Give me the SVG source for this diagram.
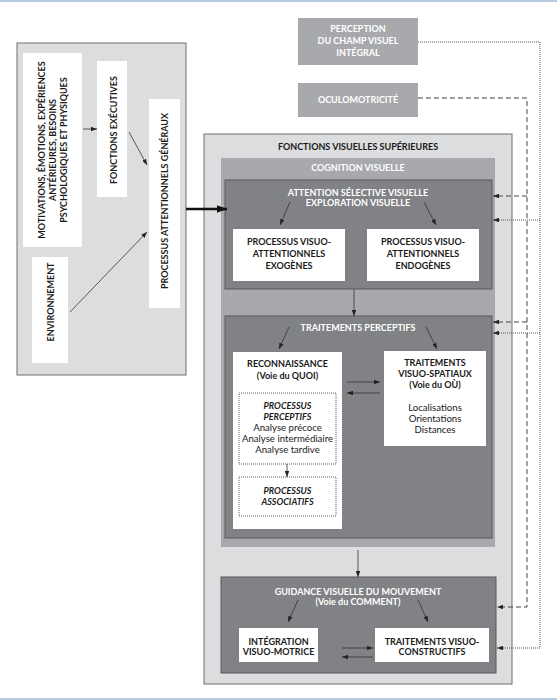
<svg xmlns="http://www.w3.org/2000/svg" width="557" height="700" viewBox="0 0 557 700">
<defs>
<style>
.t{font-family:Lato,"Liberation Sans",sans-serif;font-size:9px;font-weight:bold;text-anchor:middle;fill:#1a1a1a}
.w{fill:#ffffff}
.r{font-family:Lato,"Liberation Sans",sans-serif;font-size:9.6px;text-anchor:middle;fill:#1a1a1a}
.i{font-style:italic}
.light{fill:#dcddde;stroke:#6d6e70;stroke-width:1}
.med{fill:#a7a9ac;stroke:none}
.dark{fill:#808285;stroke:#58595b;stroke-width:1}
.white{fill:#ffffff;stroke:none}
.dot{fill:none;stroke:#333;stroke-width:0.8;stroke-dasharray:1 1}
.ln{fill:none;stroke:#333;stroke-width:0.8}
.dash{fill:none;stroke:#444;stroke-width:1;stroke-dasharray:5 3}
.dotl{fill:none;stroke:#555;stroke-width:1;stroke-dasharray:1 1}
</style>
<marker id="ah" viewBox="0 0 8 6" refX="8" refY="3" markerWidth="6" markerHeight="4.5" orient="auto" markerUnits="userSpaceOnUse">
<path d="M0,0 L8,3 L0,6 z" fill="#222"/>
</marker>
<marker id="ahb" viewBox="0 0 8 6" refX="8" refY="3" markerWidth="10" markerHeight="7.5" orient="auto" markerUnits="userSpaceOnUse">
<path d="M0,0 L8,3 L0,6 z" fill="#111"/>
</marker>
</defs>
<rect width="557" height="700" fill="#ffffff"/>
<line x1="0" y1="1" x2="557" y2="1" stroke="#9db7da" stroke-width="1.5"/>
<line x1="0" y1="699" x2="557" y2="699" stroke="#9db7da" stroke-width="1.5"/>

<g id="left-box">
<rect class="light" x="17" y="43" width="169" height="332" stroke="#555"/>
</g>
<g id="motivations">
<rect class="white" x="23" y="53" width="59" height="194"/>
<g transform="translate(52.5,150) rotate(-90)">
<text class="t" x="0" y="-8">MOTIVATIONS, ÉMOTIONS, EXPÉRIENCES</text>
<text class="t" x="0" y="3">ANTÉRIEURES, BESOINS</text>
<text class="t" x="0" y="14">PSYCHOLOGIQUES ET PHYSIQUES</text>
</g>
</g>
<g id="environnement">
<rect class="white" x="32" y="257" width="36" height="106"/>
<text class="t" transform="translate(53.5,302) rotate(-90)" x="0" y="0">ENVIRONNEMENT</text>
</g>
<g id="fonctions-executives">
<rect class="white" x="97" y="61" width="30" height="136"/>
<text class="t" transform="translate(117,130) rotate(-90)" x="0" y="0">FONCTIONS EXÉCUTIVES</text>
</g>
<g id="processus-attentionnels">
<rect class="white" x="149" y="99" width="31" height="209"/>
<text class="t" transform="translate(168,201) rotate(-90)" x="0" y="0">PROCESSUS ATTENTIONNELS GÉNÉRAUX</text>
</g>

<g id="perception">
<rect class="med" x="298" y="18" width="120" height="47"/>
<text class="t w" x="358" y="32">PERCEPTION</text>
<text class="t w" x="358" y="44">DU CHAMP VISUEL</text>
<text class="t w" x="358" y="56">INTÉGRAL</text>
</g>
<g id="oculomotricite">
<rect class="med" x="298" y="83" width="120" height="34"/>
<text class="t w" x="358" y="103">OCULOMOTRICITÉ</text>
</g>

<g id="fonctions-visuelles-superieures">
<rect class="light" x="204" y="134" width="308" height="550"/>
<text class="t" x="358" y="150">FONCTIONS VISUELLES SUPÉRIEURES</text>
</g>
<g id="cognition-visuelle">
<rect class="med" x="221" y="158" width="274" height="389"/>
<text class="t w" x="358" y="171">COGNITION VISUELLE</text>
</g>
<g id="attention">
<rect class="dark" x="225" y="180" width="267" height="109"/>
<text class="t w" x="358" y="196">ATTENTION SÉLECTIVE VISUELLE</text>
<text class="t w" x="358" y="206">EXPLORATION VISUELLE</text>
</g>
<g id="exogenes">
<rect class="white" x="233" y="229" width="112" height="52"/>
<text class="t" x="289" y="245">PROCESSUS VISUO-</text>
<text class="t" x="289" y="257">ATTENTIONNELS</text>
<text class="t" x="289" y="269">EXOGÈNES</text>
</g>
<g id="endogenes">
<rect class="white" x="367" y="229" width="112" height="52"/>
<text class="t" x="423" y="245">PROCESSUS VISUO-</text>
<text class="t" x="423" y="257">ATTENTIONNELS</text>
<text class="t" x="423" y="269">ENDOGÈNES</text>
</g>
<g id="traitements-perceptifs">
<rect class="dark" x="225" y="316" width="267" height="222"/>
<text class="t w" x="358" y="331">TRAITEMENTS PERCEPTIFS</text>
</g>
<g id="reconnaissance">
<rect class="white" x="233" y="352" width="109" height="177"/>
<text class="t" x="287.5" y="367">RECONNAISSANCE</text>
<text class="t" x="287.5" y="379">(Voie du QUOI)</text>
</g>
<g id="processus-perceptifs">
<rect class="dot" x="239" y="393" width="97" height="71"/>
<text class="t i" x="287.5" y="409">PROCESSUS</text>
<text class="t i" x="287.5" y="420">PERCEPTIFS</text>
<text class="r" x="287.5" y="431">Analyse précoce</text>
<text class="r" x="287.5" y="442">Analyse intermédiaire</text>
<text class="r" x="287.5" y="453">Analyse tardive</text>
</g>
<g id="processus-associatifs">
<rect class="dot" x="239" y="477" width="97" height="39"/>
<text class="t i" x="287.5" y="494">PROCESSUS</text>
<text class="t i" x="287.5" y="505">ASSOCIATIFS</text>
</g>
<g id="visuo-spatiaux">
<rect class="white" x="384" y="351" width="102" height="95"/>
<text class="t" x="435" y="366">TRAITEMENTS</text>
<text class="t" x="435" y="377">VISUO-SPATIAUX</text>
<text class="t" x="435" y="388">(Voie du OÙ)</text>
<text class="r" x="435" y="411">Localisations</text>
<text class="r" x="435" y="422">Orientations</text>
<text class="r" x="435" y="433">Distances</text>
</g>
<g id="guidance">
<rect class="dark" x="221" y="577" width="275" height="96"/>
<text class="t w" x="358" y="595">GUIDANCE VISUELLE DU MOUVEMENT</text>
<text class="t w" x="358" y="605">(Voie du COMMENT)</text>
</g>
<g id="integration">
<rect class="white" x="239" y="628" width="79" height="34"/>
<text class="t" x="278.5" y="645">INTÉGRATION</text>
<text class="t" x="278.5" y="655">VISUO-MOTRICE</text>
</g>
<g id="visuo-constructifs">
<rect class="white" x="375" y="628" width="114" height="34"/>
<text class="t" x="432" y="645">TRAITEMENTS VISUO-</text>
<text class="t" x="432" y="655">CONSTRUCTIFS</text>
</g>

<g id="connectors">
<line class="ln" x1="83" y1="129" x2="97" y2="129" marker-end="url(#ah)"/>
<line class="ln" x1="129" y1="132" x2="147" y2="165" marker-end="url(#ah)"/>
<line class="ln" x1="70" y1="312" x2="147" y2="232" marker-end="url(#ah)"/>
<line x1="186" y1="209" x2="227" y2="209" stroke="#111" stroke-width="2.5" marker-end="url(#ahb)"/>
<line class="ln" x1="290" y1="202" x2="280" y2="225" marker-end="url(#ah)"/>
<line class="ln" x1="424" y1="202" x2="436" y2="225" marker-end="url(#ah)"/>
<line class="ln" x1="354" y1="289" x2="354" y2="316" marker-end="url(#ah)"/>
<line class="ln" x1="289" y1="327" x2="279" y2="349" marker-end="url(#ah)"/>
<line class="ln" x1="426" y1="327" x2="437" y2="349" marker-end="url(#ah)"/>
<line class="ln" x1="347" y1="382" x2="380" y2="382" marker-end="url(#ah)"/>
<line class="ln" x1="380" y1="393" x2="347" y2="393" marker-end="url(#ah)"/>
<line class="ln" x1="287" y1="464" x2="287" y2="477" marker-end="url(#ah)"/>
<line class="ln" x1="358" y1="550" x2="358" y2="577" marker-end="url(#ah)"/>
<line class="ln" x1="298" y1="600" x2="288" y2="622" marker-end="url(#ah)"/>
<line class="ln" x1="418" y1="600" x2="428" y2="622" marker-end="url(#ah)"/>
<line class="ln" x1="342" y1="648" x2="373" y2="648" marker-end="url(#ah)"/>
<line class="ln" x1="373" y1="657" x2="342" y2="657" marker-end="url(#ah)"/>
<path class="dash" d="M418,98 H527 V607 H497" marker-end="url(#ah)"/>
<path class="dash" d="M527,196 H493" marker-end="url(#ah)"/>
<path class="dash" d="M527,322 H493" marker-end="url(#ah)"/>
<path class="dotl" d="M418,42 H540 V648 H497" marker-end="url(#ah)"/>
<path class="dotl" d="M540,220 H493" marker-end="url(#ah)"/>
<path class="dotl" d="M540,333 H493" marker-end="url(#ah)"/>
</g>
</svg>
